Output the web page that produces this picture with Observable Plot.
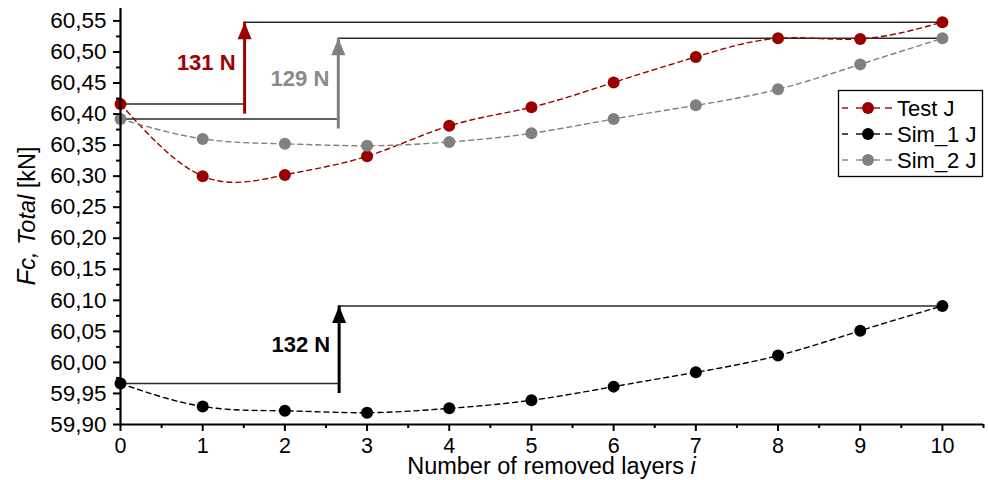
<!DOCTYPE html>
<html><head><meta charset="utf-8">
<script src="https://cdn.jsdelivr.net/npm/d3@7"></script>
<script src="https://cdn.jsdelivr.net/npm/@observablehq/plot@0.6"></script>
<style>body{margin:0;background:#fff}</style>
</head><body><div id="chart"></div>
<script>
const layers = [0,1,2,3,4,5,6,7,8,9,10];
const testJ = [60.416,60.300,60.302,60.332,60.381,60.411,60.451,60.492,60.522,60.521,60.548];
const sim1J = [59.966,59.929,59.922,59.919,59.926,59.939,59.961,59.984,60.011,60.051,60.091];
const sim2J = [60.392,60.360,60.352,60.349,60.355,60.369,60.392,60.414,60.440,60.480,60.522];
const seriesNames = ["Test J","Sim_1 J","Sim_2 J"];
const seriesColors = ["#990000","#000000","#808080"];
const labelColors = ["#a00000","#000000","#8a8a8a"];
// step annotations (per series)
const stepLabels = ["131 N","132 N","129 N"];
const stepX = [1.51, 2.66, 2.65];
const yTicks = [59.90,59.95,60.00,60.05,60.10,60.15,60.20,60.25,60.30,60.35,60.40,60.45,60.50,60.55];
const yMinor = [59.925,59.975,60.025,60.075,60.125,60.175,60.225,60.275,60.325,60.375,60.425,60.475,60.525];
const xTicks = [0,1,2,3,4,5,6,7,8,9,10];
const xMinor = [0.5,1.5,2.5,3.5,4.5,5.5,6.5,7.5,8.5,9.5,10.5];
const xLabel = "Number of removed layers ";
const xLabelItalic = "i";

const values = [testJ, sim1J, sim2J];
const series = seriesNames.map((name,k)=>({name, color: seriesColors[k],
  pts: layers.map((x,i)=>({x, y: values[k][i]}))}));
const steps = stepLabels.map((label,k)=>({label, x: stepX[k],
  lo: values[k][0], hi: values[k][values[k].length-1], x0: layers[0], x1: layers[layers.length-1]}));

const arrowHead = {draw(ctx){ ctx.moveTo(0,0); ctx.lineTo(7,17); ctx.lineTo(-7,17); ctx.closePath(); }};
const fmt = d => d.toFixed(2).replace(".", ",");
const font = "Liberation Sans, Arial, sans-serif";

const marks = [];
// step horizontal lines
marks.push(Plot.ruleY(steps, {y:"lo", x1:"x0", x2:"x", stroke:"#2a2a2a", strokeWidth:1.5}));
marks.push(Plot.ruleY(steps, {y:"hi", x1:"x", x2:"x1", stroke:"#2a2a2a", strokeWidth:1.5}));
// curves
series.forEach(s=>{
  marks.push(Plot.line(s.pts, {x:"x", y:"y", stroke:s.color, strokeWidth:1.4, strokeDasharray:"5,4", curve:"natural"}));
});
series.forEach(s=>{
  marks.push(Plot.dot(s.pts, {x:"x", y:"y", r:6, fill:s.color, stroke:"none"}));
});
// arrows + labels
steps.forEach((st,k)=>{
  marks.push(Plot.ruleX([st], {x:"x", y1:"lo", y2:"hi", stroke:seriesColors[k], strokeWidth:3, insetTop:10}));
  marks.push(Plot.dot([st], {x:"x", y:"hi", symbol:arrowHead, r:7, fill:seriesColors[k], stroke:"none"}));
  marks.push(Plot.text([st], {x:"x", y:d=>(d.lo+d.hi)/2, text:"label", textAnchor:"end", dx:-9,
    fill:labelColors[k], fontWeight:"bold", fontSize:22}));
});
// axes
marks.push(Plot.axisY(yTicks, {tickFormat:fmt, tickSize:7, tickPadding:7, fontSize:22.5, strokeWidth:2, label:null}));
marks.push(Plot.axisY(yMinor, {tickFormat:()=>"", tickSize:4, strokeWidth:2, label:null}));
marks.push(Plot.axisX(xTicks, {tickSize:7, tickPadding:6, fontSize:21.5, strokeWidth:2, label:null}));
marks.push(Plot.axisX(xMinor, {tickFormat:()=>"", tickSize:4, strokeWidth:2, label:null}));
marks.push(Plot.ruleX([0], {strokeWidth:2.2, stroke:"#000"}));
marks.push(Plot.ruleY([59.90], {strokeWidth:2.2, stroke:"#000"}));

const svg = Plot.plot({
  width: 989, height: 480,
  marginLeft: 120, marginRight: 6, marginTop: 8, marginBottom: 56,
  style: {fontFamily: font, color:"#000", background:"#fff", overflow:"visible"},
  x: {domain:[0,10.5]},
  y: {domain:[59.90,60.57]},
  marks
});

const s = d3.select(svg);
// x label
const xt = s.append("text").attr("x", (120+983)/2).attr("y", 474).attr("text-anchor","middle")
  .attr("font-size", 23.5).attr("font-family", font).attr("fill","#000");
xt.append("tspan").text(xLabel);
xt.append("tspan").attr("font-style","italic").text(xLabelItalic);
// y label
const yt = s.append("text").attr("transform","translate(35,216) rotate(-90)").attr("text-anchor","middle")
  .attr("font-size", 23.5).attr("font-family", font).attr("fill","#000");
yt.append("tspan").attr("font-style","italic").attr("font-size",26).text("F");
yt.append("tspan").attr("font-style","italic").text("c, Total");
yt.append("tspan").text(" [kN]");
// legend
const lg = s.append("g");
lg.append("rect").attr("x",838.5).attr("y",90.5).attr("width",144).attr("height",86)
  .attr("fill","#fff").attr("stroke","#000").attr("stroke-width",1.3);
seriesNames.forEach((name,k)=>{
  const cy = 108 + k*26;
  const c = seriesColors[k];
  [[842,848],[856,880],[885,892]].forEach(([a,b])=>{
    lg.append("line").attr("x1",a).attr("x2",b).attr("y1",cy).attr("y2",cy).attr("stroke",c).attr("stroke-width",1.4);
  });
  lg.append("circle").attr("cx",868).attr("cy",cy).attr("r",6).attr("fill",c);
  lg.append("text").attr("x",897).attr("y",cy).attr("dy","0.36em").attr("font-size",22)
    .attr("text-anchor","start").attr("font-family",font).attr("fill","#000").text(name);
});
document.getElementById("chart").append(svg);
</script>
</body></html>
